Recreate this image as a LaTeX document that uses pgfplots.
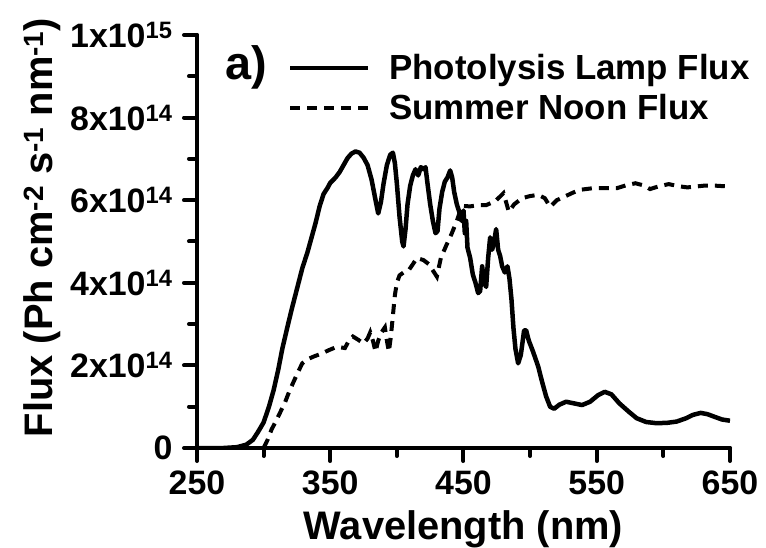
\documentclass[border=0pt]{standalone}
\usepackage{fontspec}
\setmainfont{Liberation Sans}
\usepackage{pgfplots}
\usepackage{pgfplotstable}
\pgfplotsset{compat=1.18}

\newcommand\fsz[1]{\fontsize{#1}{#1}\selectfont\bfseries}

% flux in units of 1e14 Ph cm-2 s-1 nm-1
\pgfplotstableread{
nm flux
250 0
270 0
280 0.02
287 0.08
292 0.2
296 0.4
300 0.62
304 1.0
307.5 1.4
311 1.9
314 2.4
318 2.95
321 3.35
325 3.85
329 4.35
333 4.75
336 5.1
339 5.45
342 5.85
345 6.15
348 6.3
350 6.42
354 6.55
357 6.68
360 6.85
363 7.02
366 7.13
369 7.18
372 7.15
375 7.03
378 6.85
381 6.5
384 6.0
386 5.68
388 5.95
390 6.4
392.5 6.85
395 7.1
397 7.15
398.5 6.9
400 6.4
402 5.6
404 5.0
405 4.88
406.5 5.3
408 5.9
410 6.35
412 6.6
414 6.75
416 6.6
418 6.8
420 6.75
421.5 6.8
423 6.4
425 5.9
427 5.5
429 5.2
430.5 5.25
432 5.8
434 6.2
436 6.45
438 6.55
440 6.72
441.5 6.55
443 6.2
445 5.9
447 5.7
448.5 5.5
450 5.75
451 5.2
452 5.5
453 4.85
455 4.6
457 4.2
459 4.0
461 3.75
462.5 3.8
464 4.4
465.5 4.0
467 3.9
468.5 4.6
470 5.1
471.5 4.8
473 5.0
474.5 5.3
476 4.8
477.5 4.65
479 4.4
481 4.25
483 4.4
484.5 4.1
486 3.6
487.5 2.9
489 2.4
491 2.05
493 2.25
495.5 2.85
497 2.85
499 2.6
502 2.35
506 1.98
509 1.6
512 1.25
515 1.0
518 0.95
522 1.05
527 1.12
533 1.08
539 1.04
545 1.12
551 1.28
556 1.36
561 1.3
567 1.08
574 0.88
580 0.72
587 0.63
595 0.6
603 0.61
610 0.64
617 0.72
622 0.8
628 0.85
633 0.82
638 0.76
644 0.69
650 0.66
}\lamp

\pgfplotstableread{
nm flux
300 0
303 0.2
306 0.45
310 0.7
313 0.9
316 1.1
319 1.35
322 1.57
326 1.85
329 2.05
333 2.15
338 2.22
343 2.28
349 2.37
355 2.45
361 2.42
364 2.6
367 2.7
371 2.62
375 2.53
378 2.65
380 2.8
382 2.6
384 2.33
386 2.6
388.5 2.8
391 2.92
392.5 2.6
394 2.33
395.5 2.7
397 3.2
398.5 3.7
400 4.0
402 4.18
405 4.25
409 4.31
412 4.45
415 4.6
420 4.55
424 4.45
427 4.3
430 4.15
433 4.6
437 4.9
441 5.18
445 5.5
448.5 5.84
450 5.86
455 5.85
461 5.88
467 5.88
474 5.98
480 6.17
482 5.95
484 5.72
488 5.9
494 6.05
500 6.1
506 6.13
511 6.05
515 5.84
520 6.0
526 6.09
532 6.18
537 6.25
547 6.29
557 6.29
565 6.29
572 6.36
579 6.41
585 6.36
590 6.27
596 6.33
604 6.39
611 6.34
618 6.31
624 6.33
630 6.35
640 6.35
650 6.33
}\noon

\begin{document}
\begin{tikzpicture}
\useasboundingbox (-197bp,-100bp) rectangle (569bp,448bp);
\begin{axis}[
  at={(0,0)}, anchor=south west,
  scale only axis, width=533bp, height=413bp,
  xmin=250, xmax=650, ymin=0, ymax=10,
  axis lines*=left,
  axis line style={line width=4bp, line cap=round},
  tick align=outside,
  major tick length=13bp, minor tick length=8bp,
  major tick style={line width=4bp, black, line cap=round},
  minor tick style={line width=4bp, black, line cap=round},
  xtick={250,350,450,550,650},
  xticklabels={250,350,450,550,650},
  minor x tick num=1,
  ytick={0,2,4,6,8,10},
  yticklabels={0,2x10\textsuperscript{14},4x10\textsuperscript{14},6x10\textsuperscript{14},8x10\textsuperscript{14},1x10\textsuperscript{15}},
  minor y tick num=1,
  ticklabel style={font=\fsz{34}},
  xticklabel style={yshift=-6bp},
  yticklabel style={xshift=-8bp},
  xlabel={Wavelength (nm)},
  ylabel={Flux (Ph cm\textsuperscript{-2} s\textsuperscript{-1} nm\textsuperscript{-1})},
  label style={font=\fsz{40}},
  xlabel style={at={(axis description cs:0.5,-0.222)}, anchor=base},
  ylabel style={at={(axis description cs:-0.2702,0.534)}, anchor=base},
  legend style={at={(0.17,0.958)}, anchor=north west, draw=none, fill=none,
    font=\fsz{35}, row sep=9bp, inner sep=0pt,
    /tikz/every odd column/.append style={column sep=17bp}},
  legend cell align=left,
  legend image code/.code={\draw[#1] (0bp,0bp) -- (78bp,0bp);},
]
\addplot[black, line width=4.5bp, line join=round] table[x=nm, y=flux] {\lamp};
\addlegendentry{Photolysis Lamp Flux}
\addplot[black, line width=4bp, dash pattern=on 10bp off 7bp] table[x=nm, y=flux] {\noon};
\addlegendentry{Summer Noon Flux}
\end{axis}
\node[anchor=base west, inner sep=0pt, font=\fsz{47}] at (28bp,368bp) {a)};
\end{tikzpicture}
\end{document}
